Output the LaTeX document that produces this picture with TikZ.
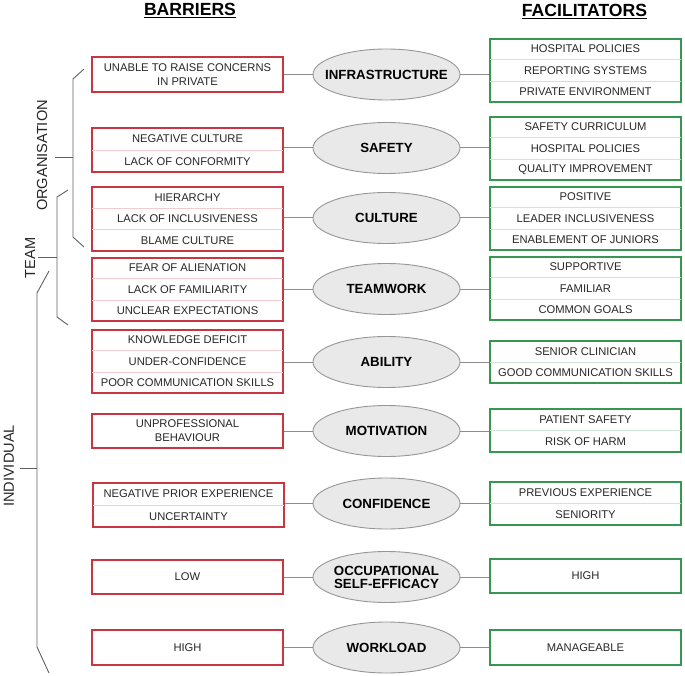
\documentclass[tikz,border=0pt]{standalone}
\usepackage{fontspec}
\setmainfont{Liberation Sans}
\usepackage{tikz}
\usetikzlibrary{shapes.geometric}
\usetikzlibrary{calc}

\definecolor{barred}{RGB}{200,55,65}
\definecolor{facgreen}{RGB}{55,150,80}
\definecolor{ovalfill}{RGB}{233,233,233}
\definecolor{ovalline}{RGB}{150,150,150}
\definecolor{linkgray}{RGB}{140,140,140}
\definecolor{bracegray}{RGB}{95,95,95}

\tikzset{
  barbox/.style={draw=barred, line width=1.2pt, minimum width=191, inner sep=0pt},
  facbox/.style={draw=facgreen, line width=1.2pt, minimum width=191, inner sep=0pt},
  bardiv/.style={draw=barred!25, line width=0.8pt, shorten <=0.6pt, shorten >=0.6pt},
  facdiv/.style={draw=facgreen!25, line width=0.8pt, shorten <=0.6pt, shorten >=0.6pt},
  itemtext/.style={text=black!85, font=\fontsize{11.2}{14}\selectfont, align=center, inner sep=0pt},
  oval/.style={ellipse, draw=ovalline, fill=ovalfill, line width=0.9pt, minimum width=147, minimum height=51, inner sep=0pt},
  ovaltext/.style={inner sep=0pt, font=\bfseries\fontsize{13.3}{13}\selectfont, align=center},
  link/.style={draw=linkgray, line width=1pt},
  brace/.style={draw=bracegray, line width=0.9pt},
  sidelabel/.style={rotate=90, text=black!85, font=\fontsize{14.6}{16}\selectfont},
  headline/.style={anchor=base, font=\bfseries\fontsize{17.6}{20}\selectfont}
}

% box with n rows: name, kind (bar/fac), x, top, bottom, n, items
\newcommand{\listbox}[7]{%
  \node[#2box, minimum height={#5-#4}] (#1) at (#3,{(#4+#5)/2}) {};
  \foreach \t [count=\i] in {#7}{
    \node[itemtext] (#1-\i) at ($(#1.north)!{(\i-0.5)/#6}!(#1.south)$) {\t};
    \ifnum\i>1
      \draw[#2div] ($(#1.north west)!{(\i-1)/#6}!(#1.south west)$) -- ($(#1.north east)!{(\i-1)/#6}!(#1.south east)$);
    \fi
  }
}

\begin{document}
\begin{tikzpicture}[x=1pt,y=-1pt]
  \useasboundingbox (0,0) rectangle (685,676);

  % headings
  \node[headline] (barhead) at (190,15.5) {\underline{BARRIERS}};
  \node[headline] (fachead) at (584.5,17) {\underline{FACILITATORS}};

  % barriers
  \listbox{b1}{bar}{187.5}{57}{92}{1}{{UNABLE TO RAISE CONCERNS\\IN PRIVATE}}
  \listbox{b2}{bar}{187.5}{128}{172}{2}{NEGATIVE CULTURE, LACK OF CONFORMITY}
  \listbox{b3}{bar}{187.5}{187}{251}{3}{HIERARCHY, LACK OF INCLUSIVENESS, BLAME CULTURE}
  \listbox{b4}{bar}{187.5}{258}{321}{3}{FEAR OF ALIENATION, LACK OF FAMILIARITY, UNCLEAR EXPECTATIONS}
  \listbox{b5}{bar}{187.5}{330}{393}{3}{KNOWLEDGE DEFICIT, UNDER-CONFIDENCE, POOR COMMUNICATION SKILLS}
  \listbox{b6}{bar}{187.5}{414}{448}{1}{{UNPROFESSIONAL\\BEHAVIOUR}}
  \listbox{b7}{bar}{188.5}{483}{527}{2}{NEGATIVE PRIOR EXPERIENCE, UNCERTAINTY}
  \listbox{b8}{bar}{187.5}{560}{594}{1}{LOW}
  \listbox{b9}{bar}{187.5}{630}{665}{1}{HIGH}

  % facilitators
  \listbox{f1}{fac}{585.5}{39}{102}{3}{HOSPITAL POLICIES, REPORTING SYSTEMS, PRIVATE ENVIRONMENT}
  \listbox{f2}{fac}{585.5}{117}{180}{3}{SAFETY CURRICULUM, HOSPITAL POLICIES, QUALITY IMPROVEMENT}
  \listbox{f3}{fac}{585.5}{187}{250}{3}{POSITIVE, LEADER INCLUSIVENESS, ENABLEMENT OF JUNIORS}
  \listbox{f4}{fac}{585.5}{257}{320}{3}{SUPPORTIVE, FAMILIAR, COMMON GOALS}
  \listbox{f5}{fac}{585.5}{341}{383}{2}{SENIOR CLINICIAN, GOOD COMMUNICATION SKILLS}
  \listbox{f6}{fac}{585.5}{409}{452}{2}{PATIENT SAFETY, RISK OF HARM}
  \listbox{f7}{fac}{585.5}{482}{525}{2}{PREVIOUS EXPERIENCE, SENIORITY}
  \listbox{f8}{fac}{585.5}{559}{593}{1}{HIGH}
  \listbox{f9}{fac}{585.5}{630}{665}{1}{MANAGEABLE}

  % themes
  \foreach \n/\y/\t in {1/74.5/INFRASTRUCTURE, 2/148/SAFETY, 3/218/CULTURE, 4/289/TEAMWORK,
      5/362/ABILITY, 6/431/MOTIVATION, 7/503.5/CONFIDENCE, 8/577/{OCCUPATIONAL\\SELF-EFFICACY},
      9/647.5/WORKLOAD}{
    \node[oval] (o\n) at (386.5,\y) {};
    \node[ovaltext] (t\n) at (o\n) {\t};
    \draw[link] (b\n.east |- o\n.west) -- (o\n.west);
    \draw[link] (o\n.east) -- (o\n.east -| f\n.west);
  }

  % levels
  \draw[brace] (84,69) -- (73,79) -- (73,237) -- (84,247);
  \draw[brace] (55,157) -- (73,157);
  \node[sidelabel] (orglabel) at (42,155.5) {ORGANISATION};

  \draw[brace] (68,190) -- (57,197) -- (57,317) -- (68,325);
  \draw[brace] (38,257) -- (57,257);
  \node[sidelabel] (teamlabel) at (30,258) {TEAM};

  \draw[brace] (49,271) -- (37,293) -- (37,647) -- (49,673);
  \draw[brace] (20,468) -- (37,468);
  \node[sidelabel] (indlabel) at (9,466) {INDIVIDUAL};
\end{tikzpicture}
\end{document}
